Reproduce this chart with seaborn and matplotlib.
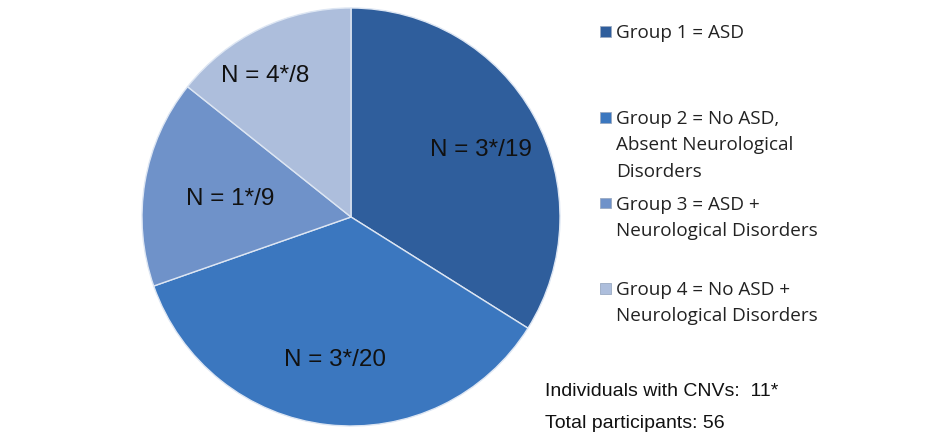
import numpy as np
import matplotlib
matplotlib.use("Agg")
import matplotlib.pyplot as plt
import seaborn as sns

groups = ["Group 1 = ASD",
          "Group 2 = No ASD,\nAbsent Neurological\nDisorders",
          "Group 3 = ASD +\nNeurological Disorders",
          "Group 4 = No ASD +\nNeurological Disorders"]
counts = [19, 20, 9, 8]
cnv_counts = [3, 3, 1, 4]
slice_labels = [f"N = {c}*/{n}" for c, n in zip(cnv_counts, counts)]
cnv_total = 11
total = 56

sns.set_theme(style="white")
plt.rcParams["font.family"] = ["Liberation Sans", "DejaVu Sans"]

colors = ["#2f5e9c", "#3b77bf", "#6f92c9", "#adbedc"]
label_r = [0.70, 0.69, 0.585, 0.79]
label_dang = [-1.6, 0.0, 1.0, 5.8]

fig = plt.figure(figsize=(9.49, 4.32), dpi=100)
cx, cy, r = 351, 217, 209
ax = fig.add_axes([(cx - r) / 949, (432 - cy - r) / 432, 2 * r / 949, 2 * r / 432])
wedges, _ = ax.pie(counts, colors=colors, startangle=90, counterclock=False,
                   wedgeprops=dict(edgecolor="#dde6f3", linewidth=1.0))
ax.set_xlim(-1, 1)
ax.set_ylim(-1, 1)
ax.axis("off")
for w, lab, rr, da in zip(wedges, slice_labels, label_r, label_dang):
    ang = np.deg2rad((w.theta1 + w.theta2) / 2 + da)
    ax.text(rr * np.cos(ang), rr * np.sin(ang), lab, ha="center", va="center",
            fontsize=17.5, color="#111111")

# legend
leg_y = [31, 117, 203, 288]
for txt, col, y in zip(groups, colors, leg_y):
    fig.patches.append(plt.Rectangle((600 / 949, 1 - (y + 5.5) / 432), 11 / 949, 11 / 432,
                                     transform=fig.transFigure, facecolor=col,
                                     edgecolor="#9aaac2", linewidth=0.6))
    fig.text(616 / 949, 1 - (y - 7) / 432, txt, ha="left", va="top", fontsize=13.6,
             family=["Open Sans", "DejaVu Sans"], color="#222222", linespacing=1.6)

fig.text(545 / 949, 1 - 391 / 432, f"Individuals with CNVs:  {cnv_total}*", ha="left",
         va="center", fontsize=14, color="#111111")
fig.text(545 / 949, 1 - 424 / 432, f"Total participants: {total}", ha="left",
         va="center", fontsize=14, color="#111111")

fig.savefig("out.png", dpi=100)
